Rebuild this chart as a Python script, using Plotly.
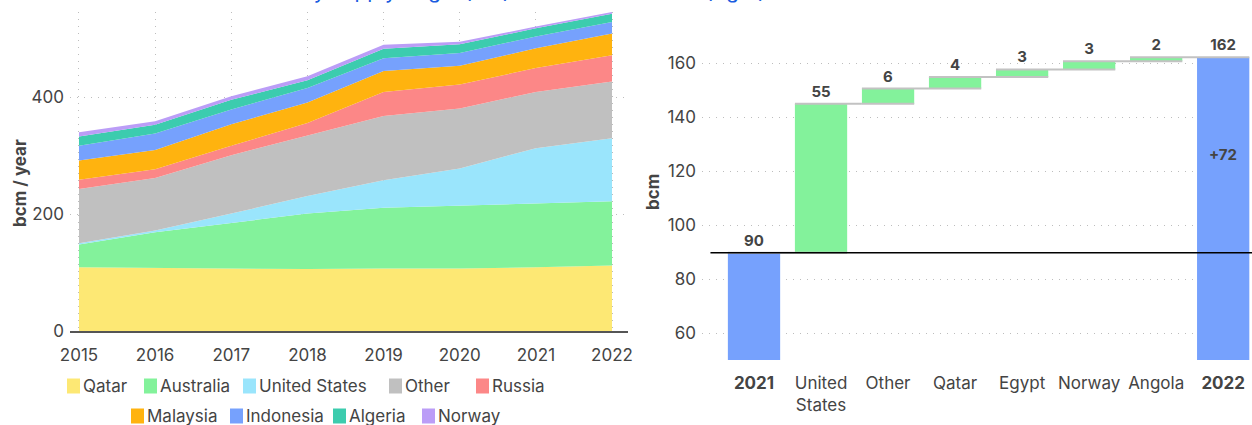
import plotly.graph_objects as go

# ---------------- data ----------------
years = [2015, 2016, 2017, 2018, 2019, 2020, 2021, 2022]
qatar = [109, 108, 106, 106, 107, 107, 109, 112]
australia = [39, 61, 79, 95, 104, 108, 109, 110]
united_states = [2, 3, 16, 30, 47, 63, 95, 108]
other = [93, 90, 100, 104, 110, 103, 96, 97]
russia = [16, 15, 16, 21, 41, 41, 41, 45]
malaysia = [33, 33, 37, 35, 36, 32, 34, 37]
indonesia = [25, 28, 25, 25, 22, 22, 20, 20]
algeria = [16, 15, 17, 13, 16, 15, 14, 14]
norway = [7, 6, 6, 7, 7, 4, 3, 3]

series_names = ["Qatar", "Australia", "United States", "Other", "Russia",
                "Malaysia", "Indonesia", "Algeria", "Norway"]
series_values = [qatar, australia, united_states, other, russia,
                 malaysia, indonesia, algeria, norway]
series_colors = ["#FDE874", "#83F29B", "#9AE5FC", "#C0C0C0", "#FC8787",
                 "#FFB30F", "#76A1FD", "#3CCCAE", "#BB9DF7"]

wf_categories = ["<b>2021</b>", "United<br>States", "Other", "Qatar", "Egypt",
                 "Norway", "Angola", "<b>2022</b>"]
wf_base = 89.8
wf_changes = [55.2, 5.6, 4.3, 2.8, 3.0, 1.5]
wf_total = wf_base + sum(wf_changes)

title_text = "Global LNG trade by supply origin (left) and increase in EU (right)"

W, H = 1252, 425
FONT = "Inter"
TXT = "#444444"


def px_x(p):
    return p / W


def px_y(p):
    return 1 - p / H


fig = go.Figure()

# ---------- left: stacked areas ----------
for name, vals, col in zip(series_names, series_values, series_colors):
    fig.add_trace(go.Scatter(
        x=years, y=vals, name=name, mode="lines", stackgroup="one",
        line=dict(width=0, color=col), fillcolor=col, showlegend=False,
        xaxis="x", yaxis="y"))

# ---------- right: waterfall ----------
wf_measure = ["absolute"] + ["relative"] * len(wf_changes) + ["total"]
wf_y = [wf_base] + wf_changes + [0]
wf_text = [f"{round(wf_base)}"] + [f"{round(v)}" for v in wf_changes] + [f"{round(wf_total)}"]
fig.add_trace(go.Waterfall(
    x=wf_categories, y=wf_y, measure=wf_measure, text=wf_text,
    textposition="outside", cliponaxis=False,
    textfont=dict(family=FONT, size=15, color=TXT, weight="bold"),
    increasing=dict(marker=dict(color="#83F29B")),
    decreasing=dict(marker=dict(color="#FC8787")),
    totals=dict(marker=dict(color="#76A1FD")),
    connector=dict(mode="spanning", line=dict(color="#C2C2C2", width=2)),
    showlegend=False, xaxis="x2", yaxis="y2"))

grid = dict(showgrid=True, gridcolor="#BDBDBD", griddash="1px,6px", gridwidth=1.4)

fig.update_layout(
    template="none",
    width=W, height=H,
    margin=dict(l=0, r=0, t=0, b=0, autoexpand=False),
    paper_bgcolor="white", plot_bgcolor="white",
    font=dict(family=FONT, size=17, color=TXT),
    showlegend=False,
    waterfallgap=0.22,
    xaxis=dict(domain=[px_x(70), px_x(628)], range=[2014.882, 2022.21],
               tickvals=years, ticktext=[str(y) for y in years], automargin=False,
               showline=True, linecolor="#555555", linewidth=2,
               ticks="", ticklabelstandoff=8, zeroline=False, **grid),
    yaxis=dict(domain=[px_y(331), px_y(12)], range=[0, 546], automargin=False,
               tickvals=[0, 200, 400], ticks="", ticklabelstandoff=5,
               zeroline=False, showline=False, **grid),
    xaxis2=dict(domain=[px_x(702), 1.0], range=[-0.776, 7.43], type="category",
                anchor="y2", showgrid=False, ticks="", ticklabelstandoff=11,
                zeroline=False, showline=False, automargin=False),
    yaxis2=dict(domain=[px_y(360), px_y(12)], range=[50, 179], anchor="x2",
                tickvals=[60, 80, 100, 120, 140, 160], ticks="", automargin=False,
                ticklabelstandoff=5, zeroline=False, showline=False, **grid),
)

shapes = [dict(type="line", xref="x2", yref="y2", x0=-0.65, x1=7.6,
               y0=wf_base, y1=wf_base, line=dict(color="black", width=1.5))]
annotations = [
    # title, mostly above the visible area as in the reference
    dict(xref="paper", yref="paper", x=px_x(125), y=px_y(5), xanchor="left",
         yanchor="bottom", text=title_text, showarrow=False,
         font=dict(family=FONT, size=20.8, color="#1A5CE0")),
    dict(xref="x2", yref="y2", x=wf_categories[-1], y=(wf_base + wf_total) / 2,
         text=f"<b>+{round(wf_total - wf_base)}</b>", showarrow=False,
         font=dict(family=FONT, size=15, color=TXT)),
    dict(xref="paper", yref="paper", x=px_x(20), y=px_y(183), text="<b>bcm / year</b>",
         xanchor="center", yanchor="middle",
         textangle=-90, showarrow=False, font=dict(family=FONT, size=17, color=TXT)),
    dict(xref="paper", yref="paper", x=px_x(653), y=px_y(192), text="<b>bcm</b>",
         xanchor="center", yanchor="middle",
         textangle=-90, showarrow=False, font=dict(family=FONT, size=17, color=TXT)),
]

# manual legend (squares + text)
legend_pos = [(67, 386), (144, 386), (243, 386), (389, 386), (476, 386),
              (131, 416), (230, 416), (333, 416), (422, 416)]
for name, col, (lx, ly) in zip(series_names, series_colors, legend_pos):
    shapes.append(dict(type="rect", xref="paper", yref="paper",
                       x0=px_x(lx), x1=px_x(lx + 13), y0=px_y(ly + 7.5), y1=px_y(ly - 7.5),
                       fillcolor=col, line=dict(width=0)))
    annotations.append(dict(xref="paper", yref="paper", x=px_x(lx + 14), y=px_y(ly),
                            xanchor="left", yanchor="middle", text=name, showarrow=False,
                            font=dict(family=FONT, size=17, color=TXT)))

fig.update_layout(shapes=shapes, annotations=annotations)

fig.write_html("out.html", config={"displayModeBar": False},
               post_script="document.body.style.margin='0';document.body.style.overflow='hidden';")
